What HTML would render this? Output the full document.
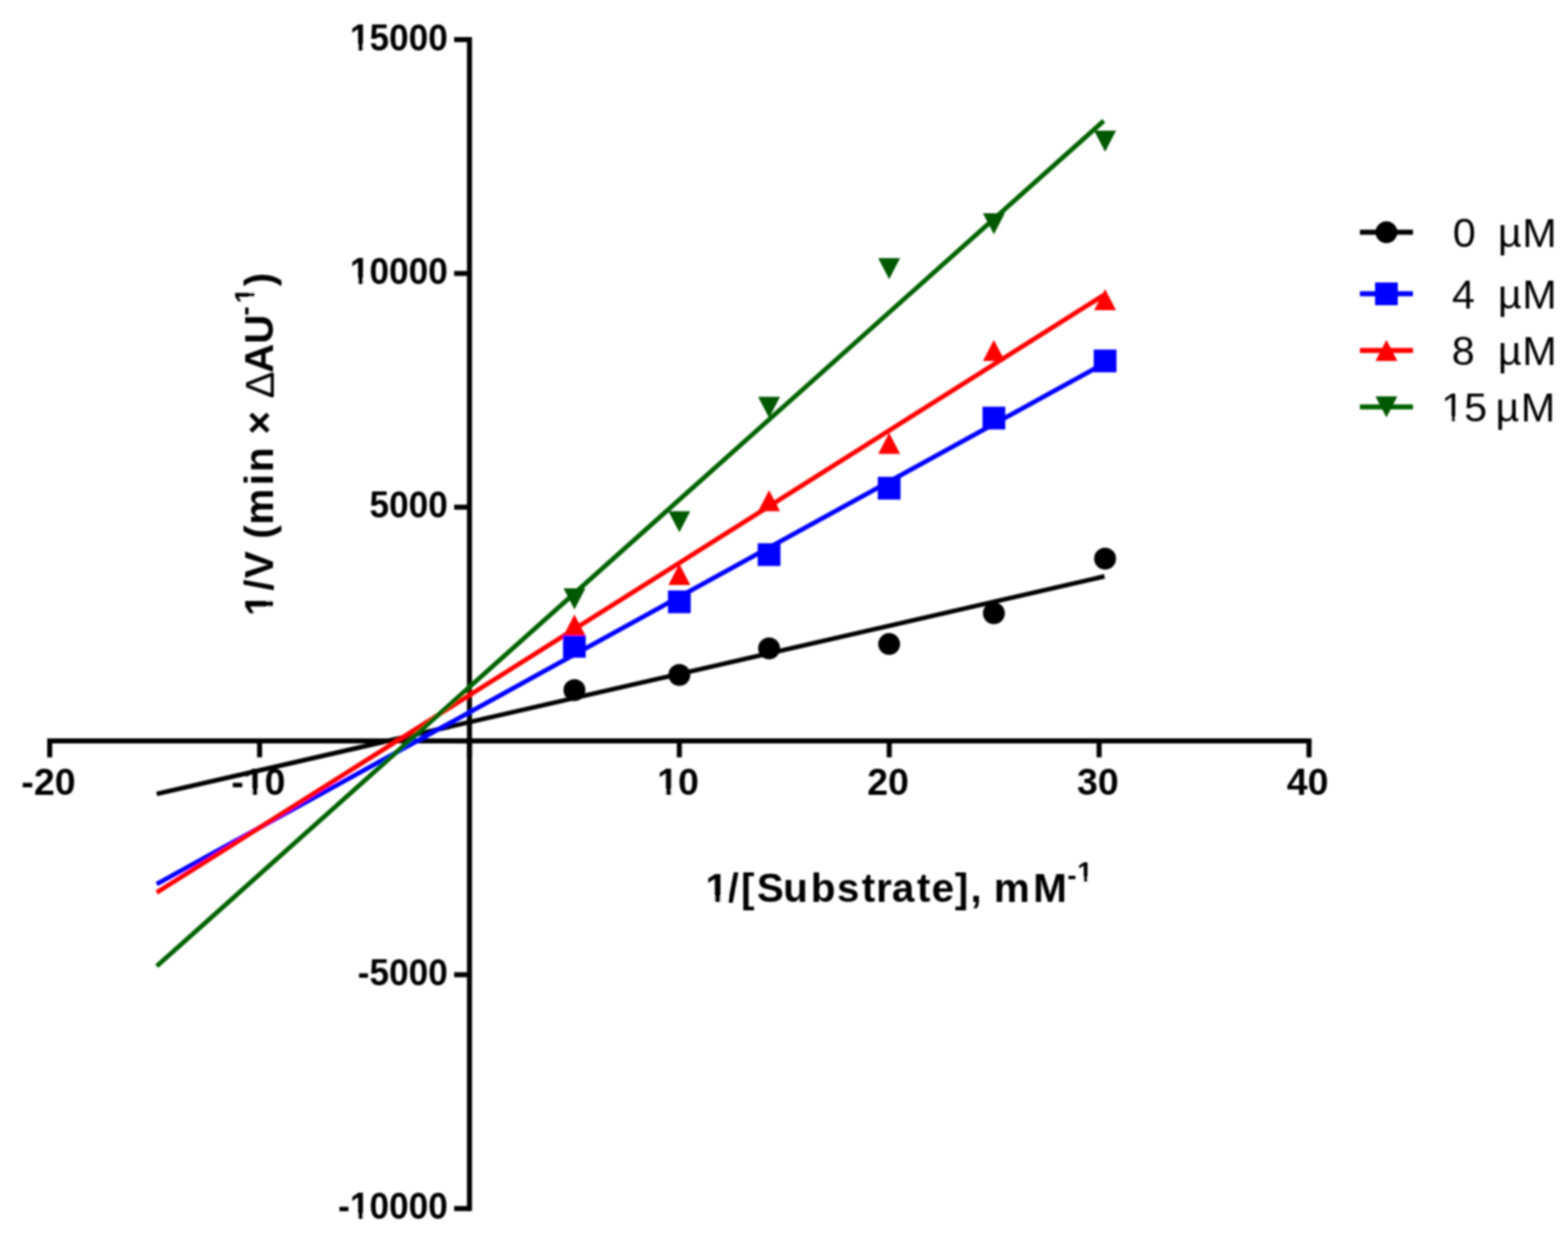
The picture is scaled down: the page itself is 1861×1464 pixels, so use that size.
<!DOCTYPE html>
<html><head><meta charset="utf-8"><title>Lineweaver-Burk plot</title>
<style>
html,body{margin:0;padding:0;background:#fff;}
body{width:1861px;height:1464px;overflow:hidden;}
svg{display:block;}
text{font-family:"Liberation Sans", Arial, Helvetica, sans-serif;fill:#000;}
.tl{font-size:44.5px;font-weight:bold;}
.ttl{font-size:48px;font-weight:bold;}
.lg{font-size:49px;font-weight:normal;}
</style></head><body>
<svg width="1861" height="1464" viewBox="0 0 1861 1464">
<defs><filter id="soft" x="0" y="0" width="1" height="1"><feGaussianBlur stdDeviation="0.8"/></filter></defs>
<rect width="1861" height="1464" fill="#fff"/>
<g filter="url(#soft)">
<line x1="557.2" y1="44.0" x2="557.2" y2="1436.8000000000002" stroke="#000" stroke-width="6.0"/>
<line x1="56" y1="879.1" x2="1556.6" y2="879.1" stroke="#000" stroke-width="6.0"/>
<line x1="539" y1="47.0" x2="557.2" y2="47.0" stroke="#000" stroke-width="6.0"/>
<line x1="539" y1="324.4" x2="557.2" y2="324.4" stroke="#000" stroke-width="6.0"/>
<line x1="539" y1="601.7" x2="557.2" y2="601.7" stroke="#000" stroke-width="6.0"/>
<line x1="539" y1="879.1" x2="557.2" y2="879.1" stroke="#000" stroke-width="6.0"/>
<line x1="539" y1="1156.4" x2="557.2" y2="1156.4" stroke="#000" stroke-width="6.0"/>
<line x1="539" y1="1433.8" x2="557.2" y2="1433.8" stroke="#000" stroke-width="6.0"/>
<line x1="59.0" y1="879.1" x2="59.0" y2="898.5" stroke="#000" stroke-width="6.0"/>
<line x1="308.1" y1="879.1" x2="308.1" y2="898.5" stroke="#000" stroke-width="6.0"/>
<line x1="557.2" y1="879.1" x2="557.2" y2="898.5" stroke="#000" stroke-width="6.0"/>
<line x1="806.3" y1="879.1" x2="806.3" y2="898.5" stroke="#000" stroke-width="6.0"/>
<line x1="1055.4" y1="879.1" x2="1055.4" y2="898.5" stroke="#000" stroke-width="6.0"/>
<line x1="1304.5" y1="879.1" x2="1304.5" y2="898.5" stroke="#000" stroke-width="6.0"/>
<line x1="1553.6" y1="879.1" x2="1553.6" y2="898.5" stroke="#000" stroke-width="6.0"/>
<text transform="translate(531.5,59.5) scale(0.94,1)" text-anchor="end" class="tl">15000</text>
<rect transform="translate(531.5,59.5) scale(0.94,1)" x="-122.22" y="-6.14" width="8.86" height="7.04" fill="#fff"/><rect transform="translate(531.5,59.5) scale(0.94,1)" x="-107.19" y="-6.14" width="8.29" height="7.04" fill="#fff"/>
<text transform="translate(531.5,336.9) scale(0.94,1)" text-anchor="end" class="tl">10000</text>
<rect transform="translate(531.5,336.9) scale(0.94,1)" x="-122.22" y="-6.14" width="8.86" height="7.04" fill="#fff"/><rect transform="translate(531.5,336.9) scale(0.94,1)" x="-107.19" y="-6.14" width="8.29" height="7.04" fill="#fff"/>
<text transform="translate(531.5,614.2) scale(0.94,1)" text-anchor="end" class="tl">5000</text>
<text transform="translate(531.5,1168.9) scale(0.94,1)" text-anchor="end" class="tl">-5000</text>
<text transform="translate(531.5,1446.3) scale(0.94,1)" text-anchor="end" class="tl">-10000</text>
<rect transform="translate(531.5,1446.3) scale(0.94,1)" x="-122.22" y="-6.14" width="8.86" height="7.04" fill="#fff"/><rect transform="translate(531.5,1446.3) scale(0.94,1)" x="-107.19" y="-6.14" width="8.29" height="7.04" fill="#fff"/>
<text x="57.5" y="943" text-anchor="middle" class="tl">-20</text>
<text x="306.6" y="943" text-anchor="middle" class="tl">-10</text>
<rect x="290.75" y="936.86" width="8.86" height="7.04" fill="#fff"/><rect x="305.77" y="936.86" width="8.29" height="7.04" fill="#fff"/>
<text x="804.8" y="943" text-anchor="middle" class="tl">10</text>
<rect x="781.55" y="936.86" width="8.86" height="7.04" fill="#fff"/><rect x="796.57" y="936.86" width="8.29" height="7.04" fill="#fff"/>
<text x="1053.9" y="943" text-anchor="middle" class="tl">20</text>
<text x="1303.0" y="943" text-anchor="middle" class="tl">30</text>
<text x="1552.1" y="943" text-anchor="middle" class="tl">40</text>
<line x1="186" y1="941.9" x2="1310.9" y2="683.8" stroke="#000000" stroke-width="5.5"/>
<line x1="186" y1="1048.9" x2="1310.9" y2="430.9" stroke="#0000ff" stroke-width="5.5"/>
<line x1="186" y1="1058.8" x2="1310.9" y2="349.6" stroke="#ff0000" stroke-width="5.5"/>
<line x1="186" y1="1146.2" x2="1310.0" y2="143.4" stroke="#006200" stroke-width="5.5"/>
<circle cx="681.8" cy="818.8" r="13.00" fill="#000000"/>
<circle cx="806.3" cy="800.8" r="13.00" fill="#000000"/>
<circle cx="912.8" cy="769.3" r="13.00" fill="#000000"/>
<circle cx="1055.3" cy="764.1" r="13.00" fill="#000000"/>
<circle cx="1179.6" cy="727.5" r="13.00" fill="#000000"/>
<circle cx="1311.6" cy="662.8" r="13.00" fill="#000000"/>
<rect x="668.2" y="753.3" width="27.0" height="27.0" fill="#0000ff"/>
<rect x="792.8" y="700.5" width="27.0" height="27.0" fill="#0000ff"/>
<rect x="899.3" y="644.5" width="27.0" height="27.0" fill="#0000ff"/>
<rect x="1041.8" y="565.7" width="27.0" height="27.0" fill="#0000ff"/>
<rect x="1166.1" y="482.5" width="27.0" height="27.0" fill="#0000ff"/>
<rect x="1298.1" y="414.7" width="27.0" height="27.0" fill="#0000ff"/>
<polygon points="681.8,729.0 694.8,754.0 668.8,754.0" fill="#ff0000"/>
<polygon points="806.3,669.1 819.3,694.1 793.3,694.1" fill="#ff0000"/>
<polygon points="912.8,581.5 925.8,606.5 899.8,606.5" fill="#ff0000"/>
<polygon points="1055.3,513.5 1068.3,538.5 1042.3,538.5" fill="#ff0000"/>
<polygon points="1179.6,403.2 1192.6,428.2 1166.6,428.2" fill="#ff0000"/>
<polygon points="1311.6,342.9 1324.6,367.9 1298.6,367.9" fill="#ff0000"/>
<polygon points="668.8,698.1 694.8,698.1 681.8,723.1" fill="#005800"/>
<polygon points="793.3,606.5 819.3,606.5 806.3,631.5" fill="#005800"/>
<polygon points="899.8,470.8 925.8,470.8 912.8,495.8" fill="#005800"/>
<polygon points="1042.3,306.2 1068.3,306.2 1055.3,331.2" fill="#005800"/>
<polygon points="1166.6,252.9 1192.6,252.9 1179.6,277.9" fill="#005800"/>
<polygon points="1298.6,155.0 1324.6,155.0 1311.6,180.0" fill="#005800"/>
<line x1="1614" y1="275.6" x2="1677" y2="275.6" stroke="#000000" stroke-width="6.0"/>
<circle cx="1645.5" cy="275.6" r="13.00" fill="#000000"/>
<text y="293.1" class="lg"><tspan x="1724.2">0</tspan><tspan x="1777.8">µ</tspan><tspan x="1806.8">M</tspan></text>
<line x1="1614" y1="348.6" x2="1677" y2="348.6" stroke="#0000ff" stroke-width="6.0"/>
<rect x="1632.0" y="335.1" width="27.0" height="27.0" fill="#0000ff"/>
<text y="366.1" class="lg"><tspan x="1723.2">4</tspan><tspan x="1777.8">µ</tspan><tspan x="1806.8">M</tspan></text>
<line x1="1614" y1="415.8" x2="1677" y2="415.8" stroke="#ff0000" stroke-width="6.0"/>
<polygon points="1645.5,403.3 1658.5,428.3 1632.5,428.3" fill="#ff0000"/>
<text y="433.3" class="lg"><tspan x="1723.1">8</tspan><tspan x="1777.8">µ</tspan><tspan x="1806.8">M</tspan></text>
<line x1="1614" y1="482.8" x2="1677" y2="482.8" stroke="#006200" stroke-width="6.0"/>
<polygon points="1632.5,470.3 1658.5,470.3 1645.5,495.3" fill="#005800"/>
<text y="500.3" class="lg"><tspan x="1710.5">15</tspan><tspan x="1775.0">µ</tspan><tspan x="1805.0">M</tspan></text>
<rect x="1712.80" y="495.04" width="9.99" height="6.16" fill="#fff"/><rect x="1727.18" y="495.04" width="9.61" height="6.16" fill="#fff"/>
<text y="1070.0" class="ttl"><tspan x="837.3">1</tspan><tspan x="863.5">/</tspan><tspan x="879.6">[</tspan><tspan x="898.2">S</tspan><tspan x="929.6">u</tspan><tspan x="962.2">b</tspan><tspan x="993.2">s</tspan><tspan x="1022.7">t</tspan><tspan x="1039.7">r</tspan><tspan x="1058.4">a</tspan><tspan x="1088.2">t</tspan><tspan x="1105.7">e</tspan><tspan x="1133.3">]</tspan><tspan x="1151.8">,</tspan> <tspan x="1179.6">m</tspan><tspan x="1226.2">M</tspan><tspan x="1266.7" y="1050.0" font-size="33">-</tspan><tspan x="1278.4" y="1046.0" font-size="33">1</tspan></text>
<rect x="838.92" y="1063.50" width="9.56" height="7.40" fill="#fff"/><rect x="855.12" y="1063.50" width="8.95" height="7.40" fill="#fff"/>
<rect x="1279.51" y="1041.03" width="6.56" height="5.87" fill="#fff"/><rect x="1290.66" y="1041.03" width="6.14" height="5.87" fill="#fff"/>
<text transform="translate(323.5,740.0) rotate(-90)" class="ttl"><tspan x="9.3" y="0">1</tspan><tspan x="39.3" y="0">/</tspan><tspan x="54.0" y="0">V</tspan> <tspan x="100.7" y="0">(</tspan><tspan x="117.5" y="0">m</tspan><tspan x="164.2" y="0">i</tspan><tspan x="180.1" y="0">n</tspan> <tspan x="224.6" y="0">×</tspan> <tspan x="267.3" y="1.5" font-weight="normal">Δ</tspan><tspan x="297.6" y="0">A</tspan><tspan x="332.0" y="0">U</tspan><tspan x="400.6" y="0">)</tspan><tspan x="365.5" y="-22" font-size="33">-</tspan><tspan x="380.3" y="-22" font-size="33">1</tspan></text>
<rect transform="translate(323.5,740.0) rotate(-90)" x="10.92" y="-6.50" width="9.56" height="7.40" fill="#fff"/><rect transform="translate(323.5,740.0) rotate(-90)" x="27.12" y="-6.50" width="8.95" height="7.40" fill="#fff"/>
<rect transform="translate(323.5,740.0) rotate(-90)" x="381.41" y="-26.97" width="6.56" height="5.87" fill="#fff"/><rect transform="translate(323.5,740.0) rotate(-90)" x="392.56" y="-26.97" width="6.14" height="5.87" fill="#fff"/>
</g>
</svg>
</body></html>
